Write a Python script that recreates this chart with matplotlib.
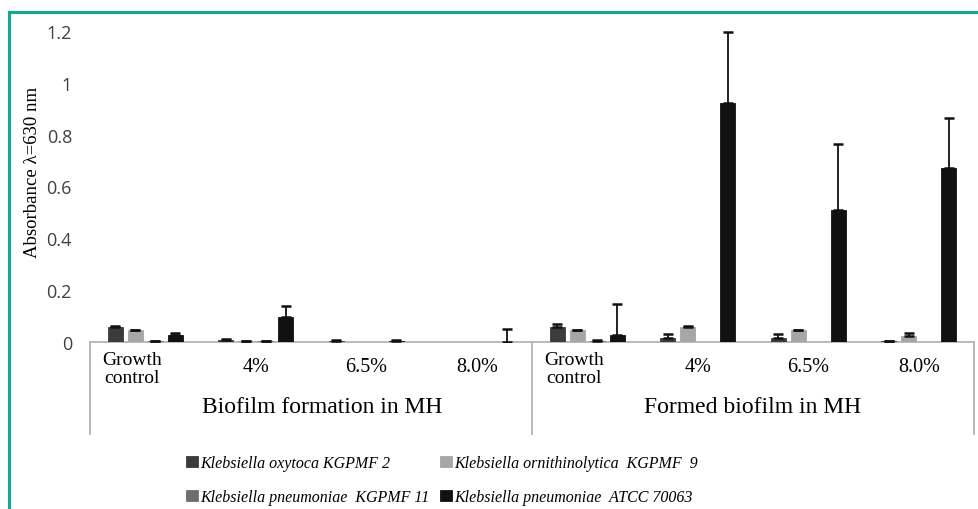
import numpy as np
import matplotlib
matplotlib.use('Agg')
import matplotlib.pyplot as plt
from matplotlib.lines import Line2D
import matplotlib.transforms as mtransforms

# concentrations within each medium block
categories = ['Growth\ncontrol', '4%', '6.5%', '8.0%',
              'Growth\ncontrol', '4%', '6.5%', '8.0%']
groups = ['Biofilm formation in MH', 'Formed biofilm in MH']

strains = ['Klebsiella oxytoca KGPMF 2',
           'Klebsiella ornithinolytica  KGPMF  9',
           'Klebsiella pneumoniae  KGPMF 11',
           'Klebsiella pneumoniae  ATCC 70063']
colors = ['#3b3b3b', '#a6a6a6', '#6e6e6e', '#111111']

# mean absorbance and upper error per strain
oxytoca = [0.058, 0.008, 0.004, 0.0, 0.058, 0.017, 0.017, 0.003]
oxytoca_err = [0.003, 0.003, 0.002, 0.0, 0.010, 0.012, 0.012, 0.002]
ornith = [0.045, 0.002, 0.0, 0.0, 0.045, 0.058, 0.045, 0.023]
ornith_err = [0.003, 0.002, 0.0, 0.0, 0.003, 0.003, 0.003, 0.011]
pneumo11 = [0.003, 0.002, 0.0, 0.0, 0.004, 0.0, 0.0, 0.0]
pneumo11_err = [0.002, 0.002, 0.0, 0.0, 0.002, 0.0, 0.0, 0.0]
atcc = [0.026, 0.097, 0.002, 0.0, 0.026, 0.922, 0.51, 0.672]
atcc_err = [0.010, 0.040, 0.004, 0.050, 0.120, 0.275, 0.255, 0.193]

values = [oxytoca, ornith, pneumo11, atcc]
errors = [oxytoca_err, ornith_err, pneumo11_err, atcc_err]

serif = 'Liberation Serif'
fig = plt.figure(figsize=(9.79, 5.10), dpi=100)
ax = fig.add_axes((90 / 979, 167 / 510, 884 / 979, 311 / 510))

x = np.arange(len(categories))
slot = 0.181
width = 0.136
bars = []
for i, (vals, errs) in enumerate(zip(values, errors)):
    pos = x + (i - 1.5) * slot
    b = ax.bar(pos, vals, width, color=colors[i], edgecolor=colors[i],
               linewidth=0.6, label=strains[i], zorder=2)
    bars.append(b)
    vals = np.array(vals)
    errs = np.array(errs)
    m = errs > 0
    ax.errorbar(pos[m], vals[m], yerr=[np.zeros(m.sum()), errs[m]],
                fmt='none', ecolor='#111111', elinewidth=1.3, capsize=3.6,
                capthick=1.8, zorder=3)

ax.set_xlim(-0.5, len(categories) - 0.5)
ax.set_ylim(0, 1.2)
ax.set_yticks([0, 0.2, 0.4, 0.6, 0.8, 1.0, 1.2])
ax.set_yticklabels(['0', '0.2', '0.4', '0.6', '0.8', '1', '1.2'],
                   fontfamily='Open Sans', fontsize=13, color='#404040')
ax.tick_params(axis='y', length=0, pad=13)
ax.set_xticks([])
for s in ax.spines.values():
    s.set_visible(False)

ax.set_ylabel('Absorbance λ=630 nm', fontfamily=serif, fontsize=13.5)
ax.yaxis.set_label_coords(-0.055, 0.55)

# multi-level category axis
trans = mtransforms.blended_transform_factory(ax.transData, ax.transAxes)
axis_col = '#b4b4b4'
ax.plot([-0.5, len(categories) - 0.5], [0, 0], transform=trans,
        color=axis_col, lw=1.3, clip_on=False, zorder=1)
for xv in [-0.5, 3.5, 7.5]:
    ax.plot([xv, xv], [0, -0.296], transform=trans, color=axis_col,
            lw=1.3, clip_on=False)

for i, lab in enumerate(categories):
    if '\n' in lab:
        ax.text(i - 0.12, -0.085, lab, transform=trans, ha='center',
                va='center', fontfamily=serif, fontsize=14,
                linespacing=1.05)
    else:
        ax.text(i, -0.078, lab, transform=trans, ha='center', va='center',
                fontfamily=serif, fontsize=14.5)

for g, lab in enumerate(groups):
    ax.text(g * 4 + 1.5 + (0.1 if g == 0 else 0.0), -0.207, lab,
            transform=trans, ha='center', va='center', fontfamily=serif,
            fontsize=17)

# legend in two rows
order = [0, 2, 1, 3]
leg = fig.legend([bars[k] for k in order], [strains[k] for k in order],
                 ncol=2, loc='center left', bbox_to_anchor=(172 / 979, 1 - 481 / 510),
                 frameon=False, handlelength=0.7, handleheight=0.7,
                 handletextpad=0.15, columnspacing=0.7, labelspacing=1.1,
                 prop={'family': serif, 'style': 'italic', 'size': 11.5})

# teal frame on left and top
teal = '#12a892'
fig.add_artist(Line2D([9 / 979, 9 / 979], [0, 1 - 13 / 510], color=teal,
                      lw=2.2, transform=fig.transFigure))
fig.add_artist(Line2D([9 / 979, 1], [1 - 13 / 510, 1 - 13 / 510], color=teal,
                      lw=2.2, transform=fig.transFigure))

fig.savefig('out.png', dpi=100)
